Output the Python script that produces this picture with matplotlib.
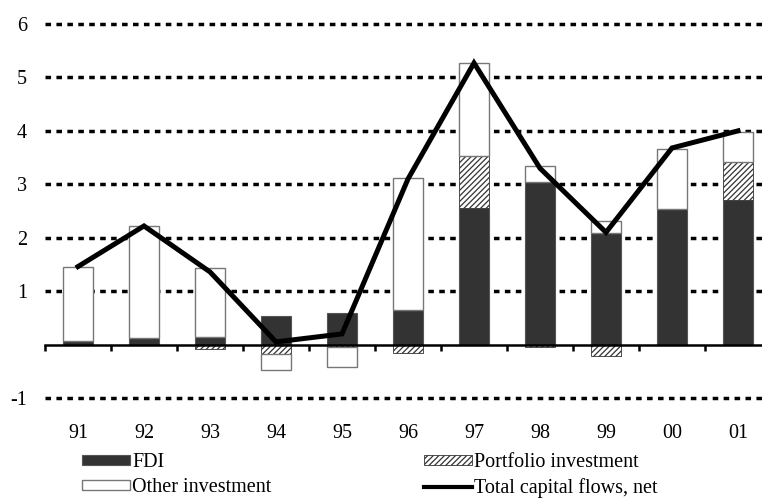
import numpy as np
import matplotlib
matplotlib.use("Agg")
import matplotlib.pyplot as plt
from matplotlib.patches import Patch
from matplotlib.lines import Line2D

plt.rcParams['font.family'] = ['Liberation Serif', 'DejaVu Serif']
plt.rcParams['hatch.linewidth'] = 0.9

# data
years = ['91', '92', '93', '94', '95', '96', '97', '98', '99', '00', '01']
fdi = [0.07, 0.12, 0.14, 0.54, 0.60, 0.65, 2.56, 3.05, 2.08, 2.54, 2.70]
portfolio = [0.0, 0.0, -0.08, -0.17, -0.05, -0.15, 0.97, -0.05, -0.22, 0.0, 0.71]
other = [1.39, 2.10, 1.30, -0.31, -0.37, 2.47, 1.74, 0.30, 0.23, 1.12, 0.57]
total = [1.46, 2.22, 1.36, 0.05, 0.20, 3.10, 5.27, 3.30, 2.10, 3.68, 4.00]

fs = 14.5
W, H = 762, 500
fig = plt.figure(figsize=(W / 100, H / 100), dpi=100)

# axes: x from 45px to 771px, y -1.1..6.1 mapped so that 6 -> 24px, -1 -> 398px
unit = (398 - 24) / 7.0
top_px = 24 - 0.1 * unit
bot_px = 398 + 0.1 * unit
ax = fig.add_axes([45 / W, (H - bot_px) / H, (771 - 45) / W, (bot_px - top_px) / H])

x = np.arange(len(years))
bw = 0.46

# stack positives up and negatives down
pos_base = np.zeros(len(x))
neg_base = np.zeros(len(x))
series = [
    (fdi, dict(color='#333333', edgecolor='#555555', linewidth=0.8)),
    (portfolio, dict(color='white', edgecolor='#333333', hatch='//////', linewidth=0.6)),
    (other, dict(color='white', edgecolor='#777777', linewidth=1.0)),
]
for vals, style in series:
    vals = np.array(vals)
    bottoms = np.where(vals >= 0, pos_base, neg_base)
    ax.bar(x, vals, bw, bottom=bottoms, zorder=2, **style)
    pos_base = pos_base + np.clip(vals, 0, None)
    neg_base = neg_base + np.clip(vals, None, 0)

ax.plot(x, total, color='black', linewidth=3.6, zorder=4, solid_joinstyle='miter')

# dotted gridlines
for g in [-1, 1, 2, 3, 4, 5, 6]:
    ax.axhline(g, color='black', linewidth=2.5, linestyle=(0, (1.6, 1.55)), zorder=1)

ax.set_xlim(-0.5, 10.5)
ax.set_ylim(-1.1, 6.1)
ax.set_yticks([-1, 1, 2, 3, 4, 5, 6])
ax.set_yticklabels(['-1', '1', '2', '3', '4', '5', '6'], fontsize=fs)
ax.tick_params(axis='y', length=0, pad=13)

for s in ['top', 'right', 'left']:
    ax.spines[s].set_visible(False)
ax.spines['bottom'].set_position(('data', 0))
ax.spines['bottom'].set_linewidth(1.8)
ax.spines['bottom'].set_zorder(3)

ax.set_xticks(x)
ax.set_xticklabels(years, fontsize=fs)
ax.set_xticks(np.arange(-0.5, 10.6, 1.0), minor=True)
ax.tick_params(axis='x', which='major', length=0, pad=57)
ax.tick_params(axis='x', which='minor', length=4, width=1.8, direction='out')

handles = [
    Patch(facecolor='#333333', edgecolor='#555555', linewidth=0.8),
    Patch(facecolor='white', edgecolor='#777777', linewidth=1.0),
    Patch(facecolor='white', edgecolor='#333333', hatch='//////', linewidth=0.6),
    Line2D([0], [0], color='black', linewidth=3.0),
]
labels = ['FDI', 'Other investment', 'Portfolio investment', 'Total capital flows, net']
fig.legend(handles, labels, ncol=2, loc='upper left',
           bbox_to_anchor=(82 / W, (H - 453) / H), frameon=False,
           fontsize=fs, borderpad=0, borderaxespad=0, handlelength=2.4,
           handleheight=0.4, handletextpad=0.1, labelspacing=0.3,
           columnspacing=7.55)

fig.savefig('out.png', dpi=100)
